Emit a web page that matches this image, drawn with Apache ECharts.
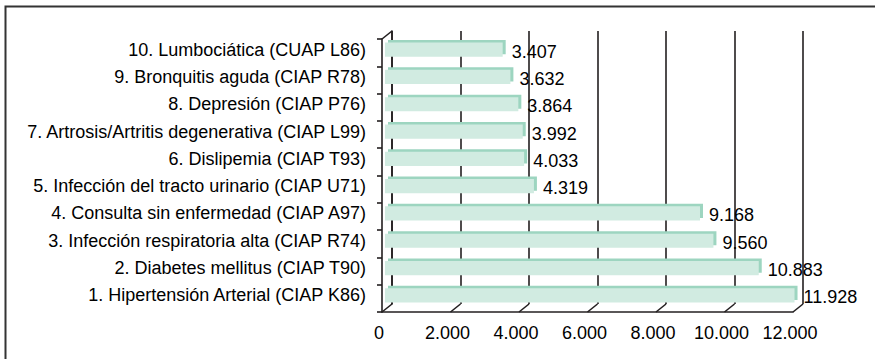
<!DOCTYPE html>
<html lang="es">
<head>
    <meta charset="UTF-8">
    <title>Diagnósticos más frecuentes</title>
    <style>
        html, body { margin: 0; padding: 0; background: #fff; }
        #main { width: 875px; height: 359px; }
    </style>
</head>
<body>
<div id="main"></div>
<script src="https://cdn.jsdelivr.net/npm/echarts@6/dist/echarts.min.js"></script>
<script>
    // categorías de abajo hacia arriba
    var categories = [
        '1. Hipertensión Arterial (CIAP K86)',
        '2. Diabetes mellitus (CIAP T90)',
        '3. Infección respiratoria alta (CIAP R74)',
        '4. Consulta sin enfermedad (CIAP A97)',
        '5. Infección del tracto urinario (CIAP U71)',
        '6. Dislipemia (CIAP T93)',
        '7. Artrosis/Artritis degenerativa (CIAP L99)',
        '8. Depresión (CIAP P76)',
        '9. Bronquitis aguda (CIAP R78)',
        '10. Lumbociática (CUAP L86)'
    ];
    var values = [11928, 10883, 9560, 9168, 4319, 4033, 3992, 3864, 3632, 3407];
    var xTicks = [0, 2000, 4000, 6000, 8000, 10000, 12000];

    var font = '"Liberation Sans", Arial, sans-serif';
    var ink = '#231f20';
    var txt = '#000';
    var faceColor = '#d1ebe1';
    var edgeColor = '#9dd5c0';
    var depth = [10, -8];     // desplazamiento del plano trasero
    var barDepth = [3, -2.5];

    function miles(v) {
        return String(v).replace(/\B(?=(\d{3})+(?!\d))/g, '.');
    }

    var barData = values.map(function (v, i) { return [v, i]; });
    var tickData = xTicks.map(function (v) { return [v, 0]; });

    var myChart = echarts.init(document.getElementById('main'), null, {renderer: 'svg'});
    var option = {
        animation: false,
        backgroundColor: '#fff',
        graphic: [{
            type: 'rect',
            shape: {x: 5.5, y: 6.5, width: 900, height: 400},
            style: {fill: 'none', stroke: '#333', lineWidth: 2},
            silent: true
        }],
        grid: [
            {left: 382, top: 39, width: 411, height: 273},   // plano frontal
            {left: 386, top: 36, width: 411, height: 273},   // barras
            {left: 392, top: 31, width: 411, height: 273}    // plano trasero
        ],
        xAxis: [{
            gridIndex: 0, type: 'value', min: 0, max: 12000, interval: 2000,
            axisLine: {show: true, lineStyle: {color: ink, width: 1.6}},
            axisTick: {show: false},
            splitLine: {show: false},
            axisLabel: {
                margin: 12, color: txt, fontFamily: font, fontSize: 18,
                padding: [0, 6, 0, 0],
                formatter: function (v) { return miles(v); }
            }
        }, {
            gridIndex: 1, type: 'value', min: 0, max: 12000, interval: 2000, show: false
        }, {
            gridIndex: 2, type: 'value', min: 0, max: 12000, interval: 2000,
            axisLine: {show: false},
            axisTick: {show: false},
            axisLabel: {show: false},
            splitLine: {show: true, lineStyle: {color: ink, width: 1.6}}
        }],
        yAxis: [{
            gridIndex: 0, type: 'category', data: categories,
            axisLine: {show: true, lineStyle: {color: ink, width: 1.6}},
            axisTick: {show: true, length: 5, lineStyle: {color: ink, width: 1.6}},
            axisLabel: {show: false}
        }, {
            gridIndex: 1, type: 'category', data: categories,
            axisLine: {show: false},
            axisTick: {show: false},
            axisLabel: {margin: 20, color: txt, fontFamily: font, fontSize: 18}
        }, {
            gridIndex: 2, type: 'category', data: categories,
            axisLine: {show: true, lineStyle: {color: ink, width: 1.6}},
            axisTick: {show: false},
            axisLabel: {show: false}
        }],
        series: [{
            // barras con efecto 3D
            type: 'custom',
            xAxisIndex: 1, yAxisIndex: 1,
            data: barData,
            encode: {x: 0, y: 1},
            renderItem: function (params, api) {
                var val = api.value(0);
                var p0 = api.coord([0, api.value(1)]);
                var p1 = api.coord([val, api.value(1)]);
                var h = api.size([0, 1])[1] * 0.52;
                var x = p0[0] - 1, y = p1[1] - h / 2, w = p1[0] - x;
                return {
                    type: 'group',
                    children: [{
                        type: 'rect',
                        shape: {x: x + barDepth[0], y: y + barDepth[1], width: w, height: h},
                        style: {fill: edgeColor}
                    }, {
                        type: 'rect',
                        shape: {x: x, y: y, width: w, height: h},
                        style: {fill: faceColor}
                    }, {
                        type: 'text',
                        style: {
                            x: p1[0] + 9, y: p1[1] + 2,
                            text: miles(val),
                            fontFamily: font, fontSize: 18, fill: txt,
                            verticalAlign: 'middle', align: 'left'
                        }
                    }]
                };
            },
            z: 3
        }, {
            // marcas diagonales de profundidad
            type: 'custom',
            xAxisIndex: 0, yAxisIndex: 0,
            data: tickData,
            encode: {x: 0, y: 1},
            renderItem: function (params, api) {
                var cs = params.coordSys;
                var px = api.coord([api.value(0), 0])[0];
                var bottom = cs.y + cs.height;
                var kids = [{
                    type: 'line',
                    shape: {x1: px, y1: bottom, x2: px + depth[0], y2: bottom + depth[1]},
                    style: {stroke: ink, lineWidth: 1.6}
                }];
                if (params.dataIndex === 0) {
                    kids.push({
                        type: 'line',
                        shape: {x1: px, y1: cs.y, x2: px + depth[0], y2: cs.y + depth[1]},
                        style: {stroke: ink, lineWidth: 1.6}
                    });
                }
                return {type: 'group', children: kids};
            },
            z: 4
        }]
    };
    myChart.setOption(option);
</script>
</body>
</html>
